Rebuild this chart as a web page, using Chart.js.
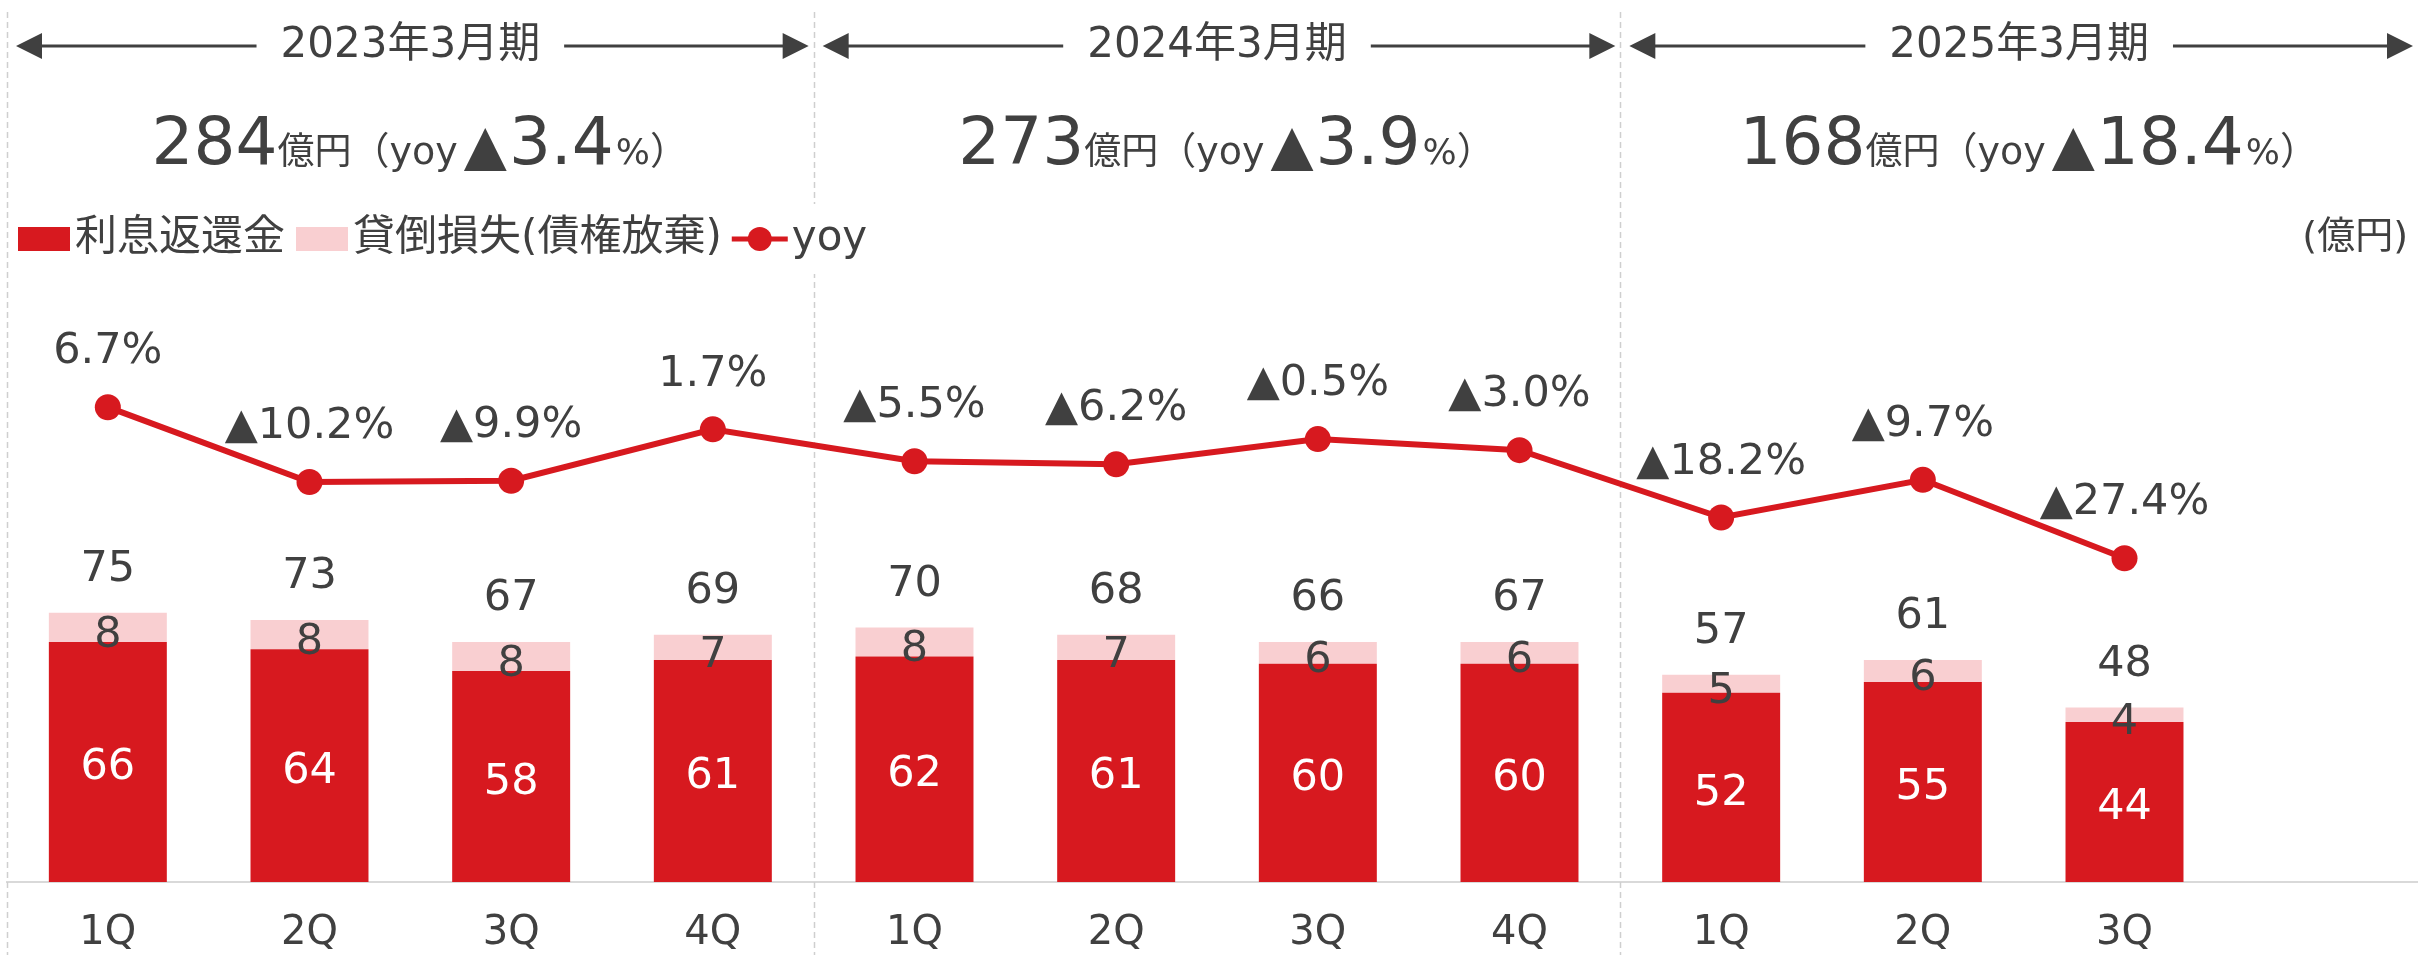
<!DOCTYPE html>
<html lang="ja">
<head>
<meta charset="utf-8">
<script src="https://cdn.jsdelivr.net/npm/chart.js@4.4.1/dist/chart.umd.min.js"></script>
<style>
  body { margin: 0; background: #fff; overflow: hidden; }
  #page { width: 2418px; height: 955px; overflow: hidden; position: relative; }
  #wrap { width: 2427px; height: 955px; position: relative; }
</style>
</head>
<body>
<div id="page"><div id="wrap"><canvas id="myChart"></canvas></div></div>
<script>
// quarterly data (億円)
const quarters = ['1Q', '2Q', '3Q', '4Q', '1Q', '2Q', '3Q', '4Q', '1Q', '2Q', '3Q', ''];
const interest = [66, 64, 58, 61, 62, 61, 60, 60, 52, 55, 44];
const badDebt = [8, 8, 8, 7, 8, 7, 6, 6, 5, 6, 4];
const totals = [75, 73, 67, 69, 70, 68, 66, 67, 57, 61, 48];
const yoy = [6.7, -10.2, -9.9, 1.7, -5.5, -6.2, -0.5, -3.0, -18.2, -9.7, -27.4];

// fiscal year headers
const periods = ['2023年3月期', '2024年3月期', '2025年3月期'];
const periodTotals = [284, 273, 168];
const periodYoy = [-3.4, -3.9, -18.4];

const PAGE_W = 2418;
const RED = '#D7191F';
const PINK = '#F9CFD1';
const TEXT = '#404040';
const LATIN = '"DejaVu Sans", "Noto Sans CJK JP", sans-serif';
const CJK = '"Noto Sans CJK JP", "DejaVu Sans", sans-serif';

function pct(v) {
    return (v < 0 ? '▲' : '') + Math.abs(v).toFixed(1) + '%';
}

/*========================================
 * header, separators, legend, labels
 *========================================*/
function slotEdges(chart) {
    const x = chart.scales.x;
    const slot = x.getPixelForValue(1) - x.getPixelForValue(0);
    return i => x.getPixelForValue(i) - slot / 2;
}

const decoPlugin = {
    id: 'deco',
    beforeDatasetsDraw(chart) {
        const ctx = chart.ctx;
        const edge = slotEdges(chart);
        ctx.save();
        ctx.strokeStyle = '#cfcfcf';
        ctx.lineWidth = 1.5;
        ctx.setLineDash([6, 4]);
        [0, 4, 8].forEach(i => {
            const px = Math.round(edge(i)) + 0.5;
            ctx.beginPath();
            ctx.moveTo(px, 12);
            ctx.lineTo(px, chart.height);
            ctx.stroke();
        });
        ctx.restore();
    },
    afterDatasetsDraw(chart) {
        const ctx = chart.ctx;
        const edge = slotEdges(chart);
        const bounds = [[edge(0), edge(4)], [edge(4), edge(8)], [edge(8), PAGE_W]];

        ctx.save();
        ctx.fillStyle = TEXT;
        ctx.strokeStyle = TEXT;

        // period headers with arrows
        bounds.forEach((b, k) => {
            const cx = (b[0] + b[1]) / 2;
            const y = 46;
            ctx.font = '42px ' + LATIN;
            ctx.textAlign = 'center';
            ctx.textBaseline = 'middle';
            const w = ctx.measureText(periods[k]).width;
            ctx.fillText(periods[k], cx, y);
            const l = b[0] + 9, r = b[1] - 5;
            ctx.lineWidth = 3;
            ctx.beginPath();
            ctx.moveTo(l + 20, y); ctx.lineTo(cx - w / 2 - 24, y);
            ctx.moveTo(cx + w / 2 + 24, y); ctx.lineTo(r - 20, y);
            ctx.stroke();
            ctx.beginPath();
            ctx.moveTo(l, y); ctx.lineTo(l + 26, y - 13); ctx.lineTo(l + 26, y + 13); ctx.closePath();
            ctx.moveTo(r, y); ctx.lineTo(r - 26, y - 13); ctx.lineTo(r - 26, y + 13); ctx.closePath();
            ctx.fill();

            // big total line
            const v = periodYoy[k];
            const segs = [
                [String(periodTotals[k]), '66px ' + LATIN, 0],
                ['億円', '37px ' + CJK, 0],
                ['（', '38px ' + CJK, 0],
                ['yoy', '38px ' + LATIN, 6],
                [v < 0 ? '▲' : '', '56px ' + LATIN, 2],
                [Math.abs(v).toFixed(1), '66px ' + LATIN, 2],
                ['%', '36px ' + LATIN, 0],
                ['）', '38px ' + CJK, 0]
            ];
            let total = 0;
            segs.forEach(s => { ctx.font = s[1]; s.push(ctx.measureText(s[0]).width); total += s[3] + s[2]; });
            let sx = cx - (total - 19) / 2;
            ctx.textAlign = 'left';
            ctx.textBaseline = 'alphabetic';
            segs.forEach(s => {
                ctx.font = s[1];
                ctx.fillText(s[0], sx, 164);
                sx += s[3] + s[2];
            });
        });

        // legend
        const ly = 239;
        ctx.font = '42px ' + LATIN;
        ctx.textBaseline = 'middle';
        ctx.textAlign = 'left';
        const ds = chart.data.datasets;
        const w0 = ctx.measureText(ds[0].label).width;
        const w1 = ctx.measureText(ds[1].label).width;
        const w2 = ctx.measureText(ds[2].label).width;
        let lx = 18;
        const legendEnd = lx + 52 + 5 + w0 + 11 + 52 + 5 + w1 + 10 + 56 + 4 + w2;
        ctx.fillStyle = '#fff';
        ctx.fillRect(15, 204, legendEnd - 5, 70);
        ctx.fillStyle = ds[0].backgroundColor;
        ctx.fillRect(lx, ly - 12, 52, 24);
        ctx.fillStyle = TEXT;
        ctx.fillText(ds[0].label, lx + 57, ly);
        lx += 57 + w0 + 11;
        ctx.fillStyle = ds[1].backgroundColor;
        ctx.fillRect(lx, ly - 12, 52, 24);
        ctx.fillStyle = TEXT;
        ctx.fillText(ds[1].label, lx + 57, ly);
        lx += 57 + w1 + 10;
        ctx.strokeStyle = ds[2].borderColor;
        ctx.lineWidth = 5;
        ctx.beginPath();
        ctx.moveTo(lx, ly); ctx.lineTo(lx + 56, ly);
        ctx.stroke();
        ctx.fillStyle = ds[2].borderColor;
        ctx.beginPath();
        ctx.arc(lx + 28, ly, 12, 0, Math.PI * 2);
        ctx.fill();
        ctx.fillStyle = TEXT;
        ctx.fillText(ds[2].label, lx + 60, ly);

        // unit
        ctx.font = '38px ' + LATIN;
        ctx.textAlign = 'right';
        ctx.fillText('(億円)', 2408, 238);

        // data labels
        ctx.textAlign = 'center';
        ctx.textBaseline = 'middle';
        const redBars = chart.getDatasetMeta(0).data;
        const pinkBars = chart.getDatasetMeta(1).data;
        const pts = chart.getDatasetMeta(2).data;
        ctx.font = '43px ' + LATIN;
        redBars.forEach((bar, i) => {
            ctx.fillStyle = '#fff';
            ctx.fillText(String(interest[i]), bar.x, (bar.y + bar.base) / 2 + 6);
        });
        pinkBars.forEach((bar, i) => {
            ctx.fillStyle = TEXT;
            ctx.fillText(String(badDebt[i]), bar.x, (bar.y + bar.base) / 2 + 8);
            ctx.fillText(String(totals[i]), bar.x, bar.y - 43);
        });
        pts.forEach((p, i) => {
            ctx.fillText(pct(yoy[i]), p.x, p.y - 55);
        });
        ctx.restore();
    }
};

const ctx = document.getElementById('myChart').getContext('2d');

const data = {
    labels: quarters,
    datasets: [{
        type: 'bar',
        label: '利息返還金',
        data: interest,
        backgroundColor: RED,
        stack: 's',
        order: 2
    }, {
        type: 'bar',
        label: '貸倒損失(債権放棄)',
        data: badDebt,
        backgroundColor: PINK,
        stack: 's',
        order: 2
    }, {
        type: 'line',
        label: 'yoy',
        data: yoy,
        yAxisID: 'y2',
        borderColor: RED,
        backgroundColor: RED,
        borderWidth: 6,
        pointRadius: 13,
        pointBorderWidth: 0,
        pointBackgroundColor: RED,
        tension: 0,
        order: 1
    }]
};

const options = {
    responsive: true,
    maintainAspectRatio: false,
    animation: false,
    devicePixelRatio: 1,
    layout: { autoPadding: false, padding: { top: 300, left: 7, right: 0, bottom: 1 } },
    datasets: { bar: { categoryPercentage: 1, barPercentage: 0.585 } },
    plugins: { legend: { display: false }, tooltip: { enabled: false } },
    scales: {
        x: {
            stacked: true,
            grid: { display: false, drawTicks: false },
            border: { display: true, color: '#d9d9d9', width: 2 },
            ticks: { color: TEXT, font: { family: LATIN, size: 40 }, padding: 28, maxRotation: 0, autoSkip: false },
            afterFit(scale) { scale.height = 72; }
        },
        y: { stacked: true, display: false, min: 0, max: 160 },
        y2: { display: false, min: -100.5, max: 30.9 }
    }
};

let config = {
    type: 'bar',
    data: data,
    options: options,
    plugins: [decoPlugin]
};

let graph = new Chart(ctx, config);
</script>
</body>
</html>
